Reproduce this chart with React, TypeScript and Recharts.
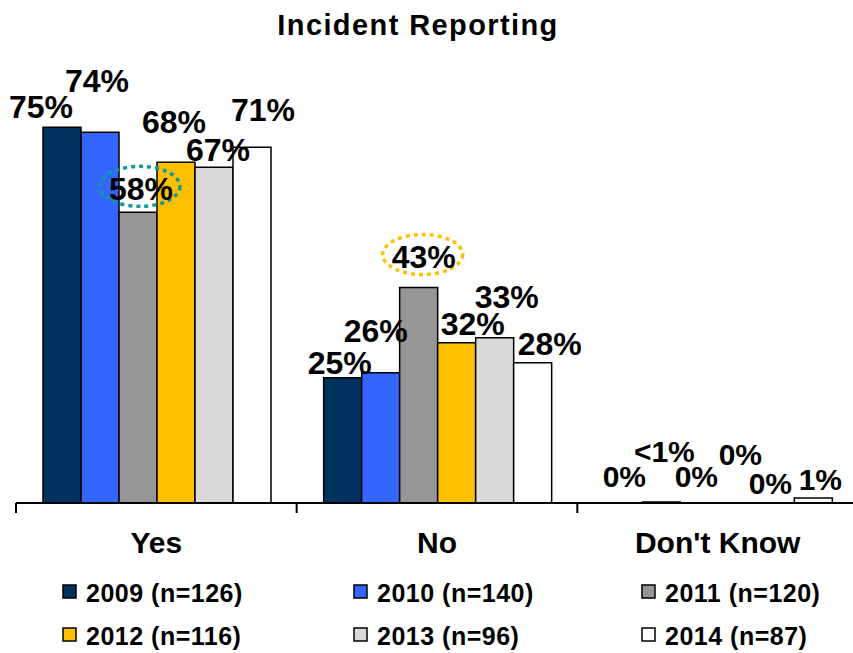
import React from 'react';
import { BarChart, Bar, XAxis, YAxis, LabelList } from 'recharts';

// values (percent of respondents)
const categories = ['Yes', 'No', "Don't Know"];
const values2009 = [75, 25, 0];
const values2010 = [74, 26, 0.2];
const values2011 = [58, 43, 0];
const values2012 = [68, 32, 0];
const values2013 = [67, 33, 0];
const values2014 = [71, 28, 1];
const seriesNames = ['2009 (n=126)', '2010 (n=140)', '2011 (n=120)', '2012 (n=116)', '2013 (n=96)', '2014 (n=87)'];

const FONT = '"Liberation Sans", Arial, sans-serif';
const W = 860;
const H = 653;
const M = { top: 52, right: 2, left: 16, bottom: 90 };
const BAND = (W - M.left - M.right) / categories.length;
const AXIS_Y = H - M.bottom - 60;

// label nudges [dx, dy] from the bar's top centre, per category
const series = [
  { key: 'y2009', values: values2009, color: '#00325F', offsets: [[-21, -21], [-3, -15], [1, -27]] },
  { key: 'y2010', values: values2010, color: '#3366FF', offsets: [[-3, -52], [-5, -42], [3, -51]] },
  { key: 'y2011', values: values2011, color: '#969696', offsets: [[3, -24], [5, -31], [-3, -27]], ring: ['#0E9A9A', '#FFC000', null] },
  { key: 'y2012', values: values2012, color: '#FFC000', offsets: [[-2, -41], [16, -19], [3, -49]] },
  { key: 'y2013', values: values2013, color: '#D9D9D9', offsets: [[4, -18], [12, -41], [-5, -20]] },
  { key: 'y2014', values: values2014, color: '#FFFFFF', offsets: [[11, -38], [17, -19], [7, -19]] },
];

const data = categories.map((name, i) => {
  const row: any = { name };
  series.forEach(s => { row[s.key] = s.values[i]; });
  return row;
});

const fmt = (v: number) => (v > 0 && v < 1 ? '<1%' : `${Math.round(v)}%`);

const makeLabel = (s: any) => (props: any) => {
  const { x, y, width, value, index } = props;
  const [dx, dy] = s.offsets[index];
  const fs = index === 2 ? 30 : 32;
  const cx = Number(x) + Number(width) / 2 + dx;
  const cy = Number(y) + dy;
  const ring = s.ring ? s.ring[index] : null;
  return (
    <g>
      {ring && (
        <ellipse cx={cx - 1} cy={cy - 2} rx={40} ry={20} fill="none"
          stroke={ring} strokeWidth={3.5} strokeDasharray="4 4" />
      )}
      <text x={cx} y={cy + fs * 0.36} textAnchor="middle" fontSize={fs}
        fontWeight="bold" fill="#000" fontFamily={FONT}>{fmt(value)}</text>
    </g>
  );
};

// zero bars get a hairline so their labels still get a position
const keepZero = (v: any) => (v === 0 ? 0.01 : 0);

function CategoryTick({ x, payload }: any) {
  const left = x - BAND / 2;
  return (
    <g>
      <line x1={left} y1={AXIS_Y} x2={left} y2={AXIS_Y + 10} stroke="#000" strokeWidth={2} />
      <text x={x} y={AXIS_Y + 50} textAnchor="middle" fontSize={30} fontWeight="bold"
        fill="#000" fontFamily={FONT}>{payload.value}</text>
    </g>
  );
}

const legendCols = [63, 354, 642];

function ChartLegend() {
  return (
    <svg width={853} height={83} style={{ position: 'absolute', left: 0, top: 570, overflow: 'visible' }}>
      {series.map((s, i) => {
        const mx = legendCols[i % 3];
        const row = Math.floor(i / 3);
        return (
          <g key={s.key}>
            <rect x={mx} y={15 + row * 43} width={13} height={13} fill={s.color}
              stroke="#000" strokeWidth={1.5} />
            <text x={mx + 23} y={32 + row * 43} fontSize={25} fontWeight="bold"
              letterSpacing={0.5} fill="#000" fontFamily={FONT}>{seriesNames[i]}</text>
          </g>
        );
      })}
    </svg>
  );
}

export default function App() {
  return (
    <div style={{ position: 'fixed', left: 0, top: 0, width: 853, height: 653, overflow: 'hidden', fontFamily: FONT, background: '#fff' }}>
      <div style={{ position: 'absolute', left: 0, top: 11, width: 836, textAlign: 'center', fontSize: 29, lineHeight: '29px', fontWeight: 'bold', letterSpacing: 1.4, zIndex: 2 }}>
        Incident Reporting
      </div>
      <BarChart width={W} height={H} data={data} margin={M} barCategoryGap={27} barGap={0}>
        <XAxis dataKey="name" height={60} interval={0} tickLine={false}
          axisLine={{ stroke: '#000', strokeWidth: 2 }} tick={<CategoryTick />} />
        <YAxis hide domain={[0, 90]} />
        {series.map((s, i) => (
          <Bar key={s.key} dataKey={s.key} name={seriesNames[i]} fill={s.color}
            stroke="#000" strokeWidth={1.5} minPointSize={keepZero} isAnimationActive={false}>
            <LabelList dataKey={s.key} content={makeLabel(s)} />
          </Bar>
        ))}
      </BarChart>
      <ChartLegend />
    </div>
  );
}
